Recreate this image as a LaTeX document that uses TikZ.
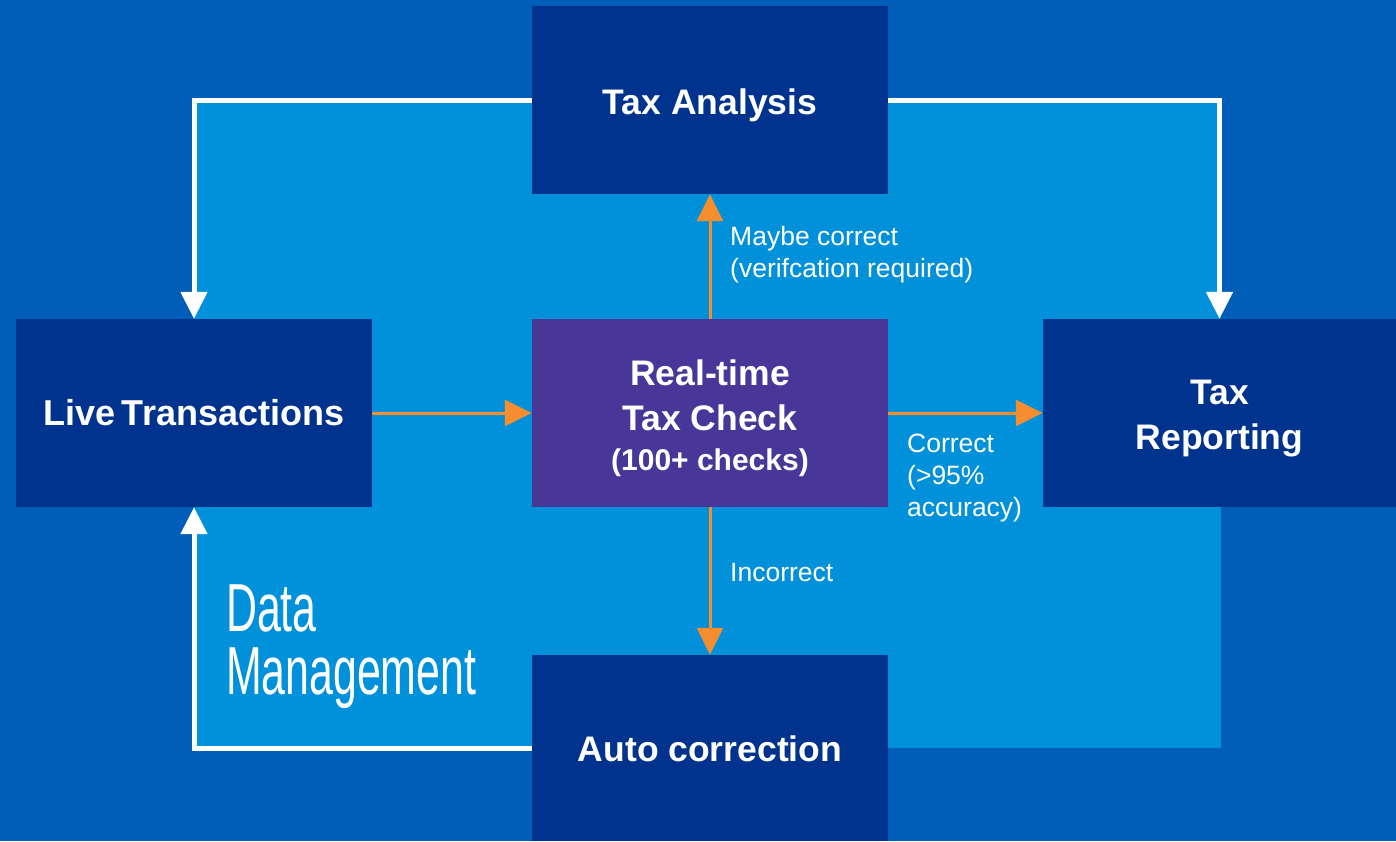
\documentclass[tikz,border=0pt]{standalone}
\usepackage{fontspec}
\setmainfont{Liberation Sans}
\newfontfamily\condfont[FakeStretch=0.63]{Liberation Sans}
\usetikzlibrary{arrows.meta}
\definecolor{bgblue}{HTML}{005EB8}
\definecolor{lightblue}{HTML}{0091DA}
\definecolor{navy}{HTML}{00338D}
\definecolor{purp}{HTML}{483698}
\definecolor{orng}{HTML}{F68D2E}
\tikzset{
  box/.style={rectangle, fill=navy, inner sep=0pt, minimum width=356pt, minimum height=188pt},
  boxtext/.style={text=white, inner sep=0pt, align=center, font=\bfseries\fontsize{35.5}{45}\selectfont},
  wline/.style={draw=white, line width=5pt, -{Triangle[length=27pt,width=26pt]}},
  oline/.style={draw=orng, line width=3pt, -{Triangle[length=27pt,width=26pt]}},
  lbl/.style={text=white, inner sep=0pt, anchor=north west, align=left, font=\fontsize{26.5}{32}\selectfont}
}
\begin{document}
\begin{tikzpicture}[x=1pt,y=-1pt]
\fill[bgblue] (0,0) rectangle (1396,841);
\useasboundingbox (0,0) rectangle (1396,841);
\fill[lightblue] (194,100) rectangle (1221,748);
% boxes
\node[box] (ta) at (710,100) {};
\node[box] (lt) at (194,413) {};
\node[box, fill=purp] (rt) at (710,413) {};
\node[box, minimum width=353pt] (tr) at (1219.5,413) {};
\node[box, minimum height=186pt] (ac) at (710,748) {};
% box texts
\node[boxtext] (tat) at (710,105) {Tax Analysis};
\node[boxtext, font=\bfseries\fontsize{36}{45}\selectfont] (ltt) at (194,413) {Live\,Transactions};
\node[boxtext] (rtt) at (710,418) {Real-time\\Tax Check\\[-5pt]{\fontsize{30}{34}\selectfont (100+ checks)}};
\node[boxtext] (trt) at (1219.5,419) {Tax\\Reporting};
\node[boxtext] (act) at (710,749) {Auto correction};
% connectors
\draw[wline] (ta.west) -| (lt.north);
\draw[wline] (ta.east) -| (tr.north);
\draw[wline] (ac.west) -| (lt.south);
\draw[oline] (lt.east) -- (rt.west);
\draw[oline] (rt.north) -- (ta.south);
\draw[oline] (rt.east) -- (tr.west);
\draw[oline] (rt.south) -- (ac.north);
% labels
\node[lbl] (l1) at (730,226) {Maybe correct\\(verifcation required)};
\node[lbl] (l2) at (907,434) {Correct\\(>95\%\\accuracy)};
\node[lbl] (l3) at (730,563) {Incorrect};
\node[lbl, font=\condfont\fontsize{68}{63}\selectfont] (dm) at (226,585) {Data\\Management};
\end{tikzpicture}
\end{document}
